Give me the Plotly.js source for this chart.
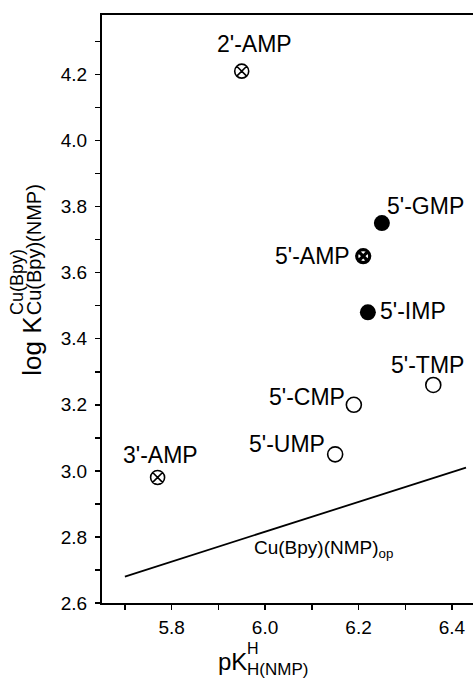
<!DOCTYPE html>
<html>
<head>
<meta charset="utf-8">
<script src="https://cdn.plot.ly/plotly-3.0.1.min.js"></script>
<style>html,body{margin:0;padding:0;background:#fff;}#chart{width:473px;height:683px;}</style>
</head>
<body>
<div id="chart"></div>
<script>
// Data
const labels = ["2'-AMP", "5'-GMP", "5'-AMP", "5'-IMP", "5'-TMP", "5'-CMP", "5'-UMP", "3'-AMP"];
const pKa    = [5.95, 6.25, 6.21, 6.22, 6.36, 6.19, 6.15, 5.77];
const logK   = [4.21, 3.75, 3.65, 3.48, 3.26, 3.20, 3.05, 2.98];
const markerType = ["cross", "filled", "crossBold", "filled", "open", "open", "open", "cross"];

const lineX = [5.70, 6.43];
const lineY = [2.68, 3.01];
const lineLabel = "Cu(Bpy)(NMP)<sub>op</sub>";
const lineLabelPos = [5.972, 2.762];

const xTicks = [5.8, 6.0, 6.2, 6.4];
const yTicks = [2.6, 2.8, 3.0, 3.2, 3.4, 3.6, 3.8, 4.0, 4.2];

// label offsets (pixel style)
const labelStyle = {
  "2'-AMP": {xa: "left",  dx: -27, dy: 27},
  "5'-GMP": {xa: "left",  dx: 3,   dy: 17},
  "5'-AMP": {xa: "right", dx: -11, dy: 0},
  "5'-IMP": {xa: "left",  dx: 10,  dy: 1},
  "5'-TMP": {xa: "left",  dx: -44, dy: 20},
  "5'-CMP": {xa: "right", dx: -7,  dy: 8},
  "5'-UMP": {xa: "right", dx: -8,  dy: 10},
  "3'-AMP": {xa: "left",  dx: -37, dy: 22}
};

const FONT = "Liberation Sans, Arial, sans-serif";

function pick(type) {
  const ix = [];
  markerType.forEach((t, i) => { if (t === type) ix.push(i); });
  return {x: ix.map(i => pKa[i]), y: ix.map(i => logK[i])};
}

const traces = [];
traces.push({x: lineX, y: lineY, mode: "lines", line: {color: "black", width: 1.8}, hoverinfo: "skip"});
const styles = {
  cross:     {symbol: "circle-x-open", size: 14, color: "black", line: {width: 1.6, color: "black"}},
  crossBold: {symbol: "circle-x-open", size: 13, color: "black", line: {width: 3.2, color: "black"}},
  filled:    {symbol: "circle", size: 16, color: "black", line: {width: 0}},
  open:      {symbol: "circle-open", size: 15, color: "black", line: {width: 1.6, color: "black"}}
};
Object.keys(styles).forEach(k => {
  const d = pick(k);
  traces.push({x: d.x, y: d.y, mode: "markers", type: "scatter", marker: styles[k], cliponaxis: false});
});

const annotations = labels.map((t, i) => ({
  x: pKa[i], y: logK[i], xref: "x", yref: "y", text: t, showarrow: false,
  xanchor: labelStyle[t].xa, yanchor: "middle", xshift: labelStyle[t].dx, yshift: labelStyle[t].dy,
  font: {family: FONT, size: 23, color: "black"}
}));
annotations.push({x: lineLabelPos[0], y: lineLabelPos[1], xref: "x", yref: "y", text: lineLabel,
  showarrow: false, xanchor: "left", yanchor: "middle", font: {family: FONT, size: 19, color: "black"}});

// x-axis title: pK with stacked H (sup) and H(NMP) (sub)
annotations.push({x: 0.395, y: -0.099, xref: "paper", yref: "paper", text: "pK", showarrow: false,
  xanchor: "right", yanchor: "middle", font: {family: FONT, size: 24, color: "black"}});
annotations.push({x: 0.388, y: -0.094, xref: "paper", yref: "paper", text: "H", showarrow: false,
  xanchor: "left", yanchor: "bottom", borderpad: 0, font: {family: FONT, size: 16, color: "black"}});
annotations.push({x: 0.388, y: -0.096, xref: "paper", yref: "paper", text: "H(NMP)", showarrow: false,
  xanchor: "left", yanchor: "top", borderpad: 0, font: {family: FONT, size: 17, color: "black"}});

// y-axis title: log K with stacked Cu(Bpy) (sup) and Cu(Bpy)(NMP) (sub), rotated
annotations.push({x: -0.191, y: 0.385, xref: "paper", yref: "paper", text: "log K", showarrow: false,
  textangle: -90, xanchor: "center", yanchor: "bottom", borderpad: 0, font: {family: FONT, size: 26, color: "black"}});
annotations.push({x: -0.229, y: 0.488, xref: "paper", yref: "paper", text: "Cu(Bpy)", showarrow: false,
  textangle: -90, xanchor: "center", yanchor: "bottom", borderpad: 0, font: {family: FONT, size: 18, color: "black"}});
annotations.push({x: -0.184, y: 0.488, xref: "paper", yref: "paper", text: "Cu(Bpy)(NMP)", showarrow: false,
  textangle: -90, xanchor: "center", yanchor: "bottom", borderpad: 0, font: {family: FONT, size: 20, color: "black"}});

const layout = {
  width: 473, height: 683,
  margin: {l: 102, r: 0, t: 15, b: 80},
  paper_bgcolor: "white", plot_bgcolor: "white",
  showlegend: false,
  font: {family: FONT, color: "black"},
  xaxis: {
    range: [5.651, 6.445], tickvals: xTicks, ticktext: xTicks.map(v => v.toFixed(1)),
    ticks: "outside", ticklen: 5, tickwidth: 1.5, tickcolor: "black", ticklabelstandoff: 1,
    minor: {dtick: 0.1, tick0: 5.7, ticks: "outside", ticklen: 5, tickwidth: 1.5, tickcolor: "black"},
    showline: true, linewidth: 2, linecolor: "black", mirror: true,
    showgrid: false, zeroline: false, tickfont: {family: FONT, size: 19, color: "black"}
  },
  yaxis: {
    range: [2.6, 4.38], tickvals: yTicks, ticktext: yTicks.map(v => v.toFixed(1)),
    ticks: "outside", ticklen: 5, tickwidth: 1.5, tickcolor: "black", ticklabelstandoff: 4,
    minor: {dtick: 0.1, tick0: 2.6, ticks: "outside", ticklen: 5, tickwidth: 1.5, tickcolor: "black"},
    showline: true, linewidth: 2, linecolor: "black",
    showgrid: false, zeroline: false, tickfont: {family: FONT, size: 19, color: "black"}
  },
  annotations: annotations
};

Plotly.newPlot("chart", traces, layout, {staticPlot: true, displayModeBar: false});
</script>
</body>
</html>
